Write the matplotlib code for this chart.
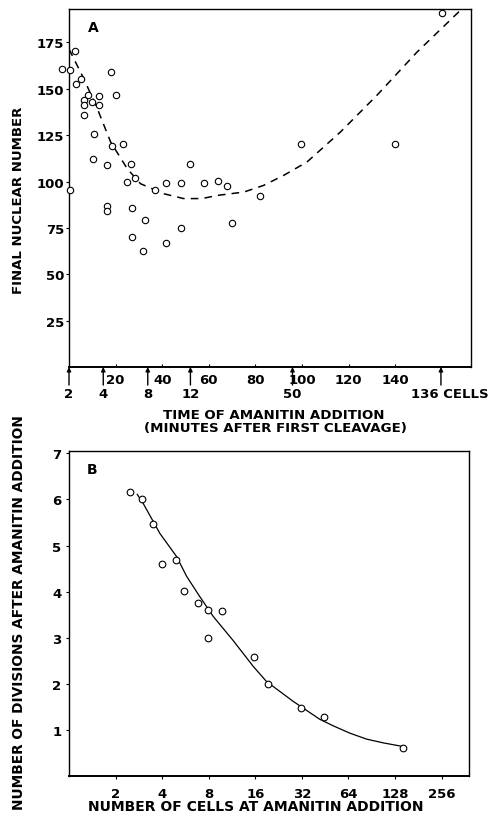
import matplotlib
matplotlib.use("Agg")
import matplotlib.pyplot as plt
import matplotlib.transforms as mtransforms
import numpy as np

plt.rcParams['font.family'] = ['DejaVu Sans']
plt.rcParams['font.weight'] = 'bold'

# panel A: final nuclear number vs time of amanitin addition (minutes)
a_minutes = [-2.8, 0.4, 2.4, 3.2, 5.0, 6.4, 6.4, 6.4, 8.3, 10.0, 12.9, 12.9,
             10.7, 10.3, 18.2, 20.0, 18.3, 23.0, 16.1, 16.1, 16.1, 26.7, 24.7,
             28.4, 27.0, 32.4, 27.2, 37.1, 41.7, 48.0, 52.0, 48.0, 57.8, 64.0,
             67.8, 70.1, 0.4, 31.9, 41.7, 99.7, 139.9, 82.1, 159.9]
a_nuclei = [160.6, 160.0, 170.5, 152.4, 155.3, 144.2, 141.3, 135.9, 146.8, 142.7,
            146.0, 141.3, 125.7, 111.9, 158.9, 146.7, 119.2, 120.0, 109.0, 86.8,
            84.3, 109.6, 99.7, 101.9, 85.9, 79.1, 70.2, 95.2, 99.4, 99.4, 109.7,
            75.0, 99.4, 100.4, 97.7, 77.5, 95.4, 62.8, 66.6, 120.3, 120.3, 92.4,
            190.8]
a_curve_x = [0, 6.4, 12.2, 17.9, 25, 30.7, 40.7, 49.2, 57.1, 63.6, 75, 83.5,
             92.1, 102.1, 116.4, 132, 149.2, 167.7, 171]
a_curve_y = [171.4, 155.3, 139.1, 121.2, 106.9, 98.8, 93.4, 90.8, 90.8, 92.5,
             94.3, 97.9, 103.3, 110.5, 126.6, 146.3, 169.6, 192, 196]
a_minute_ticks = [20, 40, 60, 80, 100, 120, 140]
stage_minutes = [0, 14.7, 33.8, 52.1, 95.9, 159.6]
stage_labels = ['2', '4', '8', '12', '50', '136 CELLS']

# panel B: divisions after amanitin vs number of cells
b_cells = [2.48, 2.98, 3.5, 3.99, 4.91, 5.53, 6.84, 7.9, 9.69, 7.87, 15.7,
           19.2, 31.7, 44.4, 144]
b_divisions = [6.16, 6.0, 5.47, 4.59, 4.69, 4.02, 3.76, 3.61, 3.57, 3.0, 2.58,
               2.0, 1.48, 1.29, 0.6]
b_curve_x = [2.76, 3.02, 3.87, 4.96, 5.76, 7.01, 8.56, 11.5, 15.5, 18.9, 28.1,
             41.8, 50.9, 65.3, 83.9, 107, 144]
b_curve_y = [6.11, 5.91, 5.26, 4.76, 4.33, 3.89, 3.46, 2.94, 2.38, 2.05, 1.62,
             1.23, 1.09, 0.93, 0.80, 0.72, 0.64]
b_cell_ticks = [2, 4, 8, 16, 32, 64, 128, 256]

W, H = 490, 820
fig = plt.figure(figsize=(4.9, 8.2), dpi=100)

def box(l, t, r, b):
    return [l / W, 1 - b / H, (r - l) / W, (b - t) / H]

# ---- panel A
ax = fig.add_axes(box(69, 10, 471, 368))
ax.plot(a_curve_x, a_curve_y, color='black', lw=1.1, ls=(0, (5, 4)))
ax.plot(a_minutes, a_nuclei, 'o', mfc='white', mec='black', ms=4.6, mew=0.8,
        clip_on=False, zorder=3)
ax.set_xlim(0, 172.5)
ax.set_ylim(0, 193)
ax.set_xticks(a_minute_ticks)
ax.set_yticks([25, 50, 75, 100, 125, 150, 175])
ax.tick_params(axis='x', direction='in', length=2, pad=4.5, labelsize=9.5)
ax.tick_params(axis='y', direction='out', length=2.5, pad=1, labelsize=9.5)
for s in ax.spines.values():
    s.set_linewidth(1.0)
ax.spines['bottom'].set_linewidth(1.4)
ax.text(19 / 402, 1 - 18 / 358, 'A', transform=ax.transAxes, fontsize=10,
        va='center', ha='left')

for xm, lab in zip(stage_minutes, stage_labels):
    ax.annotate('', xy=(xm, 0), xycoords='data', xytext=(0, -13),
                textcoords='offset points', annotation_clip=False,
                arrowprops=dict(arrowstyle='-|>', color='black', lw=1,
                                mutation_scale=6, shrinkA=0, shrinkB=0))
    if lab.endswith('CELLS'):
        tr = mtransforms.offset_copy(ax.get_xaxis_transform(), fig=fig,
                                     x=-21.6, y=-19.4, units='points')
        ax.text(xm, 0, lab, transform=tr, ha='left', va='center', fontsize=9.5)
    else:
        tr = mtransforms.offset_copy(ax.get_xaxis_transform(), fig=fig,
                                     x=0, y=-19.4, units='points')
        ax.text(xm, 0, lab, transform=tr, ha='center', va='center', fontsize=9.5)

fig.text(274 / W, 1 - 416 / H, 'TIME OF AMANITIN ADDITION', ha='center',
         va='center', fontsize=9.6)
fig.text(275 / W, 1 - 429 / H, '(MINUTES AFTER FIRST CLEAVAGE)', ha='center',
         va='center', fontsize=9.6)
fig.text(19 / W, 1 - 200 / H, 'FINAL NUCLEAR NUMBER', rotation=90,
         ha='center', va='center', fontsize=9.5)

# ---- panel B
bx = fig.add_axes(box(69, 452, 469, 777))
bx.plot(b_curve_x, b_curve_y, color='black', lw=0.9)
bx.plot(b_cells, b_divisions, 'o', mfc='white', mec='black', ms=4.8, mew=0.8,
        clip_on=False, zorder=3)
bx.set_xscale('log', base=2)
bx.set_xlim(1, 385)
bx.set_ylim(0, 7.05)
bx.set_xticks(b_cell_ticks)
bx.set_xticklabels([str(c) for c in b_cell_ticks])
bx.xaxis.set_minor_locator(matplotlib.ticker.NullLocator())
bx.set_yticks([1, 2, 3, 4, 5, 6, 7])
bx.tick_params(axis='x', direction='out', length=2, pad=6, labelsize=9.5)
bx.tick_params(axis='y', direction='out', length=2, pad=3.5, labelsize=9.5)
for s in bx.spines.values():
    s.set_linewidth(1.0)
bx.spines['bottom'].set_linewidth(1.4)
bx.text(18 / 400, 1 - 18 / 325, 'B', transform=bx.transAxes, fontsize=10,
        va='center', ha='left')

fig.text(256 / W, 1 - 807 / H, 'NUMBER OF CELLS AT AMANITIN ADDITION',
         ha='center', va='center', fontsize=10)
fig.text(19 / W, 1 - 613 / H, 'NUMBER OF DIVISIONS AFTER AMANITIN ADDITION',
         rotation=90, ha='center', va='center', fontsize=9.9)

fig.savefig('out.png', dpi=100)
